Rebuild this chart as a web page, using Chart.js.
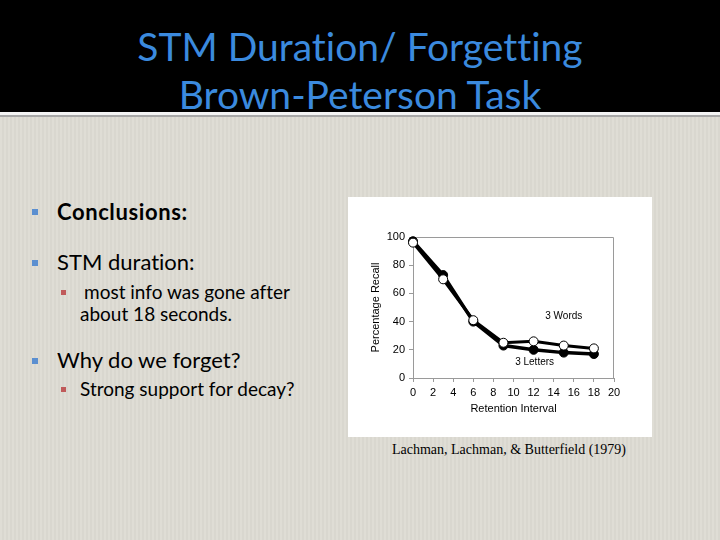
<!DOCTYPE html>
<html>
<head>
<meta charset="utf-8">
<script src="https://cdn.jsdelivr.net/npm/chart.js@4.4.0/dist/chart.umd.min.js"></script>
<style>
  html, body { margin:0; padding:0; }
  body { width:720px; height:540px; position:relative; overflow:hidden;
    background: repeating-linear-gradient(90deg, #dfddd5 0px, #dfddd5 2px, #d9d7cf 2px, #d9d7cf 4px); font-family: Lato, "Open Sans", sans-serif; font-variant-ligatures: none; }
  #header { position:absolute; left:0; top:0; width:720px; height:112px; background:#000; }
  #hline1 { position:absolute; left:0; top:112px; width:720px; height:3px; background:#f4f4f4; }
  #hline2 { position:absolute; left:0; top:115px; width:720px; height:2px; background:#a8a8a8; }
  .title { position:absolute; left:0; width:720px; text-align:center; color:#3b8ade; font-size:39px; line-height:44px; font-family: Lato, sans-serif; font-variant-ligatures: none; }
  .t { position:absolute; white-space:nowrap; color:#000; font-variant-ligatures: none; }
  .b1 { position:absolute; width:6px; height:6px; background:#5b8fd0; }
  .b2 { position:absolute; width:5px; height:5px; background:#c05a5a; }
  #panel { position:absolute; left:348px; top:197px; width:304px; height:240px; background:#fff; }
  #cite { position:absolute; left:340px; top:442px; width:338px; text-align:center; font-family:"Liberation Serif", "Times New Roman", serif; font-size:14px; color:#000; }
</style>
</head>
<body>
<div id="header"></div>
<div id="hline1"></div>
<div id="hline2"></div>
<div class="title" style="top:24px;">STM Duration/ Forgetting</div>
<div class="title" style="top:72px;">Brown-Peterson Task</div>

<div class="b1" style="left:32px;top:209px;"></div>
<div class="t" style="left:57px;top:198px;font-size:22px;font-weight:bold;letter-spacing:0.6px;">Conclusions:</div>

<div class="b1" style="left:32px;top:260px;"></div>
<div class="t" style="left:57px;top:248px;font-size:22px;">STM duration:</div>
<div class="b2" style="left:61px;top:290px;"></div>
<div class="t" style="left:84px;top:280px;font-size:19px;">most info was gone after</div>
<div class="t" style="left:80px;top:302px;font-size:19px;">about 18 seconds.</div>

<div class="b1" style="left:32px;top:358px;"></div>
<div class="t" style="left:57px;top:346px;font-size:22px;">Why do we forget?</div>
<div class="b2" style="left:61px;top:387px;"></div>
<div class="t" style="left:80px;top:377px;font-size:19px;">Strong support for decay?</div>

<div id="panel"><canvas id="c"></canvas></div>
<div id="cite">Lachman, Lachman, &amp; Butterfield (1979)</div>

<script>
const retentionIntervals = [0, 3, 6, 9, 12, 15, 18];
const lettersRecall = [97, 73, 40, 23, 20, 18, 17];
const wordsRecall = [96, 70, 41, 25, 26, 23, 21];
const xTicks = [0, 2, 4, 6, 8, 10, 12, 14, 16, 18, 20];
const yTicks = [0, 20, 40, 60, 80, 100];
const seriesLabels = ["3 Words", "3 Letters"];
const labelAnchors = [[15, 44], [12.1, 11.5]];

const toXY = (xs, ys) => xs.map((x, i) => ({x: x, y: ys[i]}));

const framePlugin = {
  id: 'frame',
  beforeDatasetsDraw(chart) {
    const {ctx, chartArea: a} = chart;
    ctx.save();
    ctx.strokeStyle = '#9a9a9a';
    ctx.lineWidth = 1;
    ctx.beginPath();
    ctx.moveTo(a.left, a.top + 0.5);
    ctx.lineTo(a.right - 0.5, a.top + 0.5);
    ctx.lineTo(a.right - 0.5, a.bottom);
    ctx.stroke();
    ctx.restore();
  },
  afterDatasetsDraw(chart) {
    const {ctx, scales} = chart;
    ctx.save();
    ctx.font = '10px "Liberation Sans", Arial, sans-serif';
    ctx.fillStyle = '#000';
    ctx.textAlign = 'center';
    ctx.textBaseline = 'middle';
    seriesLabels.forEach((s, i) => {
      ctx.fillText(s, scales.x.getPixelForValue(labelAnchors[i][0]), scales.y.getPixelForValue(labelAnchors[i][1]));
    });
    ctx.restore();
  }
};

const tickFont = {family: '"Liberation Sans", Arial, sans-serif', size: 11};

new Chart(document.getElementById('c'), {
  type: 'line',
  data: {
    datasets: [
      {
        label: seriesLabels[0],
        data: toXY(retentionIntervals, wordsRecall),
        borderColor: '#000', borderWidth: 3,
        pointBackgroundColor: '#fff', pointBorderColor: '#000', pointBorderWidth: 1,
        pointRadius: 4.5, tension: 0, clip: false
      },
      {
        label: seriesLabels[1],
        data: toXY(retentionIntervals, lettersRecall),
        borderColor: '#000', borderWidth: 3.5,
        pointBackgroundColor: '#000', pointBorderColor: '#000', pointBorderWidth: 1,
        pointRadius: 4.5, tension: 0, clip: false
      }
    ]
  },
  options: {
    responsive: true, maintainAspectRatio: false, animation: false,
    layout: { padding: {left: 0, top: 40, right: 38, bottom: 0} },
    plugins: { legend: {display: false}, tooltip: {enabled: false} },
    scales: {
      x: {
        type: 'linear', min: 0, max: 20,
        afterBuildTicks: s => { s.ticks = xTicks.map(v => ({value: v})); },
        afterFit: s => { s.height = 59; },
        grid: { drawOnChartArea: false, drawTicks: true, tickLength: 4, color: '#9a9a9a' },
        border: { color: '#9a9a9a', width: 1 },
        ticks: { font: tickFont, color: '#000', padding: 4, maxRotation: 0, autoSkip: false },
        title: { display: true, text: 'Retention Interval', font: tickFont, color: '#000', padding: {top: 0, bottom: 21} }
      },
      y: {
        type: 'linear', min: 0, max: 100,
        afterBuildTicks: s => { s.ticks = yTicks.map(v => ({value: v})); },
        afterFit: s => { s.width = 65; },
        grid: { drawOnChartArea: false, drawTicks: true, tickLength: 4, color: '#9a9a9a' },
        border: { color: '#9a9a9a', width: 1 },
        ticks: { font: tickFont, color: '#000', padding: 4 },
        title: { display: true, text: 'Percentage Recall', font: tickFont, color: '#000', padding: {top: 21, bottom: 0} }
      }
    }
  },
  plugins: [framePlugin]
});
</script>
</body>
</html>
